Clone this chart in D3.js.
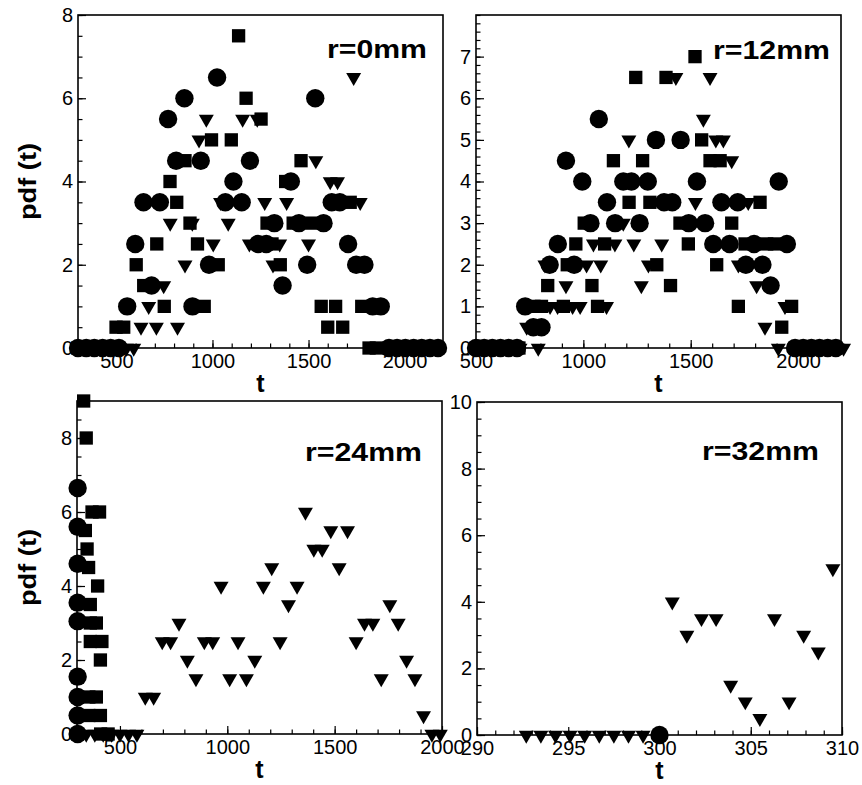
<!DOCTYPE html>
<html>
<head>
<meta charset="utf-8">
<script src="https://cdn.jsdelivr.net/npm/d3@7"></script>
<style>
  body { margin: 0; background: #fff; }
  svg text { font-family: "Liberation Sans", Arial, Helvetica, sans-serif; fill: #000; }
  .tick text { font-size: 20px; }
  .tick line { stroke: #000; stroke-width: 1.2; }
</style>
</head>
<body>
<svg id="chart" width="862" height="785"></svg>
<script>
// ---------- r = 0 mm ----------
const r0CircT = [300, 343, 385, 428, 470, 513, 556, 598, 641, 683, 726, 769, 811, 854, 896, 939, 982, 1024, 1067, 1109, 1152, 1195, 1237, 1280, 1322, 1365, 1408, 1450, 1493, 1535, 1578, 1621, 1663, 1706, 1748, 1791, 1834, 1876, 1919, 1961, 2004, 2047, 2089, 2132, 2174];
const r0CircV = [0, 0, 0, 0, 0, 0, 1, 2.5, 3.5, 1.5, 3.5, 5.5, 4.5, 6, 1, 4.5, 2, 6.5, 3.5, 4, 3.5, 4.5, 2.5, 2.5, 3, 1.5, 4, 3, 2, 6, 3, 3.5, 3.5, 2.5, 2, 2, 1, 1, 0, 0, 0, 0, 0, 0, 0];
const r0SqT = [300, 338, 376, 414, 452, 498, 538, 603, 642, 710, 749, 779, 814, 857, 883, 922, 957, 995, 1030, 1098, 1136, 1175, 1253, 1284, 1310, 1353, 1381, 1420, 1461, 1518, 1566, 1600, 1641, 1678, 1717, 1777, 1815, 1853];
const r0SqV = [0, 0, 0, 0, 0, 0.5, 0.5, 2, 1.5, 2.5, 1, 4, 3.5, 4.5, 3, 2.5, 1, 5, 2, 5, 7.5, 6, 5.5, 3, 2.5, 2, 4, 3, 4.5, 3, 1, 0.5, 1, 0.5, 3.5, 1, 0, 0];
const r0TriT = [324, 362, 400, 438, 476, 514, 552, 590, 628, 668, 708, 746, 780, 818, 857, 895, 930, 968, 1004, 1042, 1082, 1157, 1192, 1233, 1272, 1315, 1350, 1386, 1500, 1538, 1613, 1651, 1735, 1769];
const r0TriV = [0, 0, 0, 0, 0, 0, 0, 0, 0.5, 1, 0.5, 1.5, 3, 0.5, 2, 3, 5, 5.5, 2.5, 3.5, 3, 5.5, 2.5, 5.5, 3.5, 2, 2.5, 3.5, 2.5, 4.5, 4, 4, 6.5, 3.5];

// ---------- r = 12 mm ----------
const r12CircT = [500, 538, 576, 614, 652, 691, 729, 767, 805, 843, 881, 919, 957, 995, 1033, 1072, 1110, 1148, 1186, 1224, 1262, 1300, 1338, 1376, 1414, 1453, 1491, 1529, 1567, 1605, 1643, 1681, 1719, 1757, 1795, 1834, 1872, 1910, 1948, 1986, 2024, 2062, 2100, 2138, 2176];
const r12CircV = [0, 0, 0, 0, 0, 0, 1, 0.5, 0.5, 2, 2.5, 4.5, 2, 4, 3, 5.5, 3.5, 3, 4, 4, 3, 4, 5, 3.5, 3.5, 5, 3, 4, 3, 2.5, 3.5, 2.5, 3.5, 2, 2.5, 2, 1.5, 4, 2.5, 0, 0, 0, 0, 0, 0];
const r12SqT = [510, 548, 586, 624, 662, 700, 770, 805, 834, 907, 925, 965, 1004, 1040, 1066, 1099, 1140, 1213, 1244, 1276, 1310, 1342, 1385, 1406, 1450, 1489, 1520, 1551, 1590, 1621, 1637, 1691, 1722, 1753, 1823, 1854, 1890, 1924, 1970];
const r12SqV = [0, 0, 0, 0, 0, 0, 1, 1, 1.5, 1, 2, 2.5, 3, 1.5, 1, 2.5, 4.5, 3.5, 6.5, 4.5, 3.5, 2, 6.5, 1.5, 3, 2.5, 7, 5, 4.5, 2, 4.5, 3, 1, 2.5, 3.5, 2.5, 2.5, 0.5, 1];
const r12TriT = [515, 553, 591, 629, 667, 705, 736, 790, 821, 845, 880, 919, 950, 985, 1015, 1047, 1081, 1108, 1147, 1186, 1212, 1235, 1270, 1303, 1365, 1431, 1522, 1559, 1590, 1617, 1652, 1691, 1722, 1768, 1807, 1846, 1908, 1939, 1985, 2025, 2065, 2105, 2145, 2185, 2212];
const r12TriV = [0, 0, 0, 0, 0, 0, 0.5, 0, 2, 1, 1, 1.5, 1, 1, 2, 2.5, 2, 1, 2.5, 3, 5, 2.5, 1.5, 2, 2.5, 6.5, 3.5, 5.5, 6.5, 5, 5, 4.5, 2, 3.5, 1.5, 0.5, 0, 1, 0, 0, 0, 0, 0, 0, 0];

// ---------- r = 24 mm ----------
const r24CircT = [303, 303, 303, 303, 303, 303, 303, 303, 303];
const r24CircV = [6.65, 5.6, 4.6, 3.55, 3.05, 1.55, 1, 0.5, 0];
const r24SqT = [331, 343, 370, 405, 339, 347, 354, 396, 362, 362, 390, 362, 416, 409, 355, 390, 355, 409, 410, 445];
const r24SqV = [9, 8, 6, 6, 5.5, 5, 4.5, 4, 3.5, 3, 3, 2.5, 2.5, 2, 1, 1, 0.5, 0.5, 0, 0];
const r24TriT = [304, 343, 383, 422, 461, 500, 540, 579, 618, 657, 697, 736, 775, 814, 854, 893, 932, 971, 1011, 1050, 1089, 1128, 1168, 1207, 1246, 1285, 1325, 1364, 1403, 1442, 1482, 1521, 1560, 1600, 1639, 1678, 1717, 1757, 1796, 1835, 1874, 1914, 1953, 1992];
const r24TriV = [0, 0, 0, 0, 0, 0, 0, 0, 1, 1, 2.5, 2.5, 3, 2, 1.5, 2.5, 2.5, 4, 1.5, 2.5, 1.5, 2, 4, 4.5, 2.5, 3.5, 4, 6, 5, 5, 5.5, 4.5, 5.5, 2.5, 3, 3, 1.5, 3.5, 3, 2, 1.5, 0.5, 0, 0];

// ---------- r = 32 mm ----------
const r32CircT = [300];
const r32CircV = [0];
const r32TriT = [292.7, 293.5, 294.3, 295.1, 295.9, 296.7, 297.5, 298.3, 299.1, 300.7, 301.5, 302.3, 303.1, 303.9, 304.7, 305.5, 306.3, 307.1, 307.9, 308.7, 309.5];
const r32TriV = [0, 0, 0, 0, 0, 0, 0, 0, 0, 4, 3, 3.5, 3.5, 1.5, 1, 0.5, 3.5, 1, 3, 2.5, 5];

// ---------- tick labels ----------
const xTicksLong = [500, 1000, 1500, 2000];
const xTicksShort = [290, 295, 300, 305, 310];
const yTicksEven8 = [0, 2, 4, 6, 8];
const yTicksUnit7 = [0, 1, 2, 3, 4, 5, 6, 7];
const yTicksEven10 = [0, 2, 4, 6, 8, 10];

const zip = (ts, vs) => ts.map((t, i) => ({ t, v: vs[i] }));

const panels = [
  { name: "r=0mm", box: [78, 443, 15, 348], xDom: [300, 2200], yDom: [0, 8],
    xMajor: xTicksLong, xMinorStep: 100, yMajor: yTicksEven8, yMinorStep: 0.5,
    tag: [327, 58, 100], yTitle: true,
    circles: zip(r0CircT, r0CircV), squares: zip(r0SqT, r0SqV), triangles: zip(r0TriT, r0TriV) },
  { name: "r=12mm", box: [476, 841, 15, 348], xDom: [500, 2200], yDom: [0, 8],
    xMajor: xTicksLong, xMinorStep: 100, yMajor: yTicksUnit7, yMinorStep: 0.2,
    tag: [713, 59, 117], yTitle: false,
    circles: zip(r12CircT, r12CircV), squares: zip(r12SqT, r12SqV), triangles: zip(r12TriT, r12TriV) },
  { name: "r=24mm", box: [77, 442, 401, 734], xDom: [300, 2000], yDom: [0, 9],
    xMajor: xTicksLong, xMinorStep: 100, yMajor: yTicksEven8, yMinorStep: 0.5,
    tag: [305, 461, 117], yTitle: true,
    circles: zip(r24CircT, r24CircV), squares: zip(r24SqT, r24SqV), triangles: zip(r24TriT, r24TriV) },
  { name: "r=32mm", box: [477, 842, 402, 735], xDom: [290, 310], yDom: [0, 10],
    xMajor: xTicksShort, xMinorStep: 1, yMajor: yTicksEven10, yMinorStep: 0.5,
    tag: [702, 460, 117], yTitle: false,
    circles: zip(r32CircT, r32CircV), squares: [], triangles: zip(r32TriT, r32TriV) }
];

const svg = d3.select("#chart");
const circlePath = d3.symbol().type(d3.symbolCircle).size(266)();
const squarePath = d3.symbol().type(d3.symbolSquare).size(177)();
const trianglePath = d3.symbol().type(d3.symbolTriangle).size(97)();

function stepTicks(lo, hi, step) {
  const n = Math.round((hi - lo) / step);
  return d3.range(n + 1).map(i => +(lo + i * step).toFixed(6));
}

panels.forEach(p => {
  const [x0, x1, y0, y1] = p.box;
  const x = d3.scaleLinear().domain(p.xDom).range([x0, x1]);
  const y = d3.scaleLinear().domain(p.yDom).range([y1, y0]);
  const g = svg.append("g");

  // minor ticks (inward, no labels)
  g.append("g").attr("transform", `translate(0,${y1})`)
    .call(d3.axisBottom(x).tickValues(stepTicks(p.xDom[0], p.xDom[1], p.xMinorStep)).tickSize(-4.5).tickFormat(""))
    .call(a => a.select(".domain").remove());
  g.append("g").attr("transform", `translate(${x0},0)`)
    .call(d3.axisLeft(y).tickValues(stepTicks(p.yDom[0], p.yDom[1], p.yMinorStep)).tickSize(-4.5).tickFormat(""))
    .call(a => a.select(".domain").remove());

  // major ticks with labels
  g.append("g").attr("transform", `translate(0,${y1})`)
    .call(d3.axisBottom(x).tickValues(p.xMajor).tickSize(-8).tickPadding(6).tickFormat(d3.format("d")))
    .call(a => a.select(".domain").remove());
  g.append("g").attr("transform", `translate(${x0},0)`)
    .call(d3.axisLeft(y).tickValues(p.yMajor).tickSize(-8).tickPadding(5).tickFormat(d3.format("d")))
    .call(a => a.select(".domain").remove());

  // frame
  g.append("rect").attr("x", x0).attr("y", y0).attr("width", x1 - x0).attr("height", y1 - y0)
    .attr("fill", "none").attr("stroke", "#000").attr("stroke-width", 1.6);

  // markers
  const m = g.append("g").attr("fill", "#000");
  m.selectAll(".c").data(p.circles).join("path").attr("class", "c")
    .attr("d", circlePath).attr("transform", d => `translate(${x(d.t)},${y(d.v)})`);
  m.selectAll(".s").data(p.squares).join("path").attr("class", "s")
    .attr("d", squarePath).attr("transform", d => `translate(${x(d.t)},${y(d.v)})`);
  m.selectAll(".tr").data(p.triangles).join("path").attr("class", "tr")
    .attr("d", trianglePath).attr("transform", d => `translate(${x(d.t)},${y(d.v)}) rotate(180)`);

  // panel tag
  g.append("text").attr("x", p.tag[0]).attr("y", p.tag[1])
    .attr("font-size", 26).attr("font-weight", "bold")
    .attr("textLength", p.tag[2]).attr("lengthAdjust", "spacingAndGlyphs")
    .text(p.name);

  // axis titles
  g.append("text").attr("x", (x0 + x1) / 2).attr("y", y1 + 44)
    .attr("text-anchor", "middle").attr("font-size", 25).attr("font-weight", "bold").text("t");
  if (p.yTitle) {
    g.append("text").attr("transform", `translate(36,${(y0 + y1) / 2}) rotate(-90)`)
      .attr("text-anchor", "middle").attr("font-size", 24).attr("font-weight", "bold")
      .attr("textLength", 77).attr("lengthAdjust", "spacingAndGlyphs")
      .text("pdf (t)");
  }
});
</script>
</body>
</html>
